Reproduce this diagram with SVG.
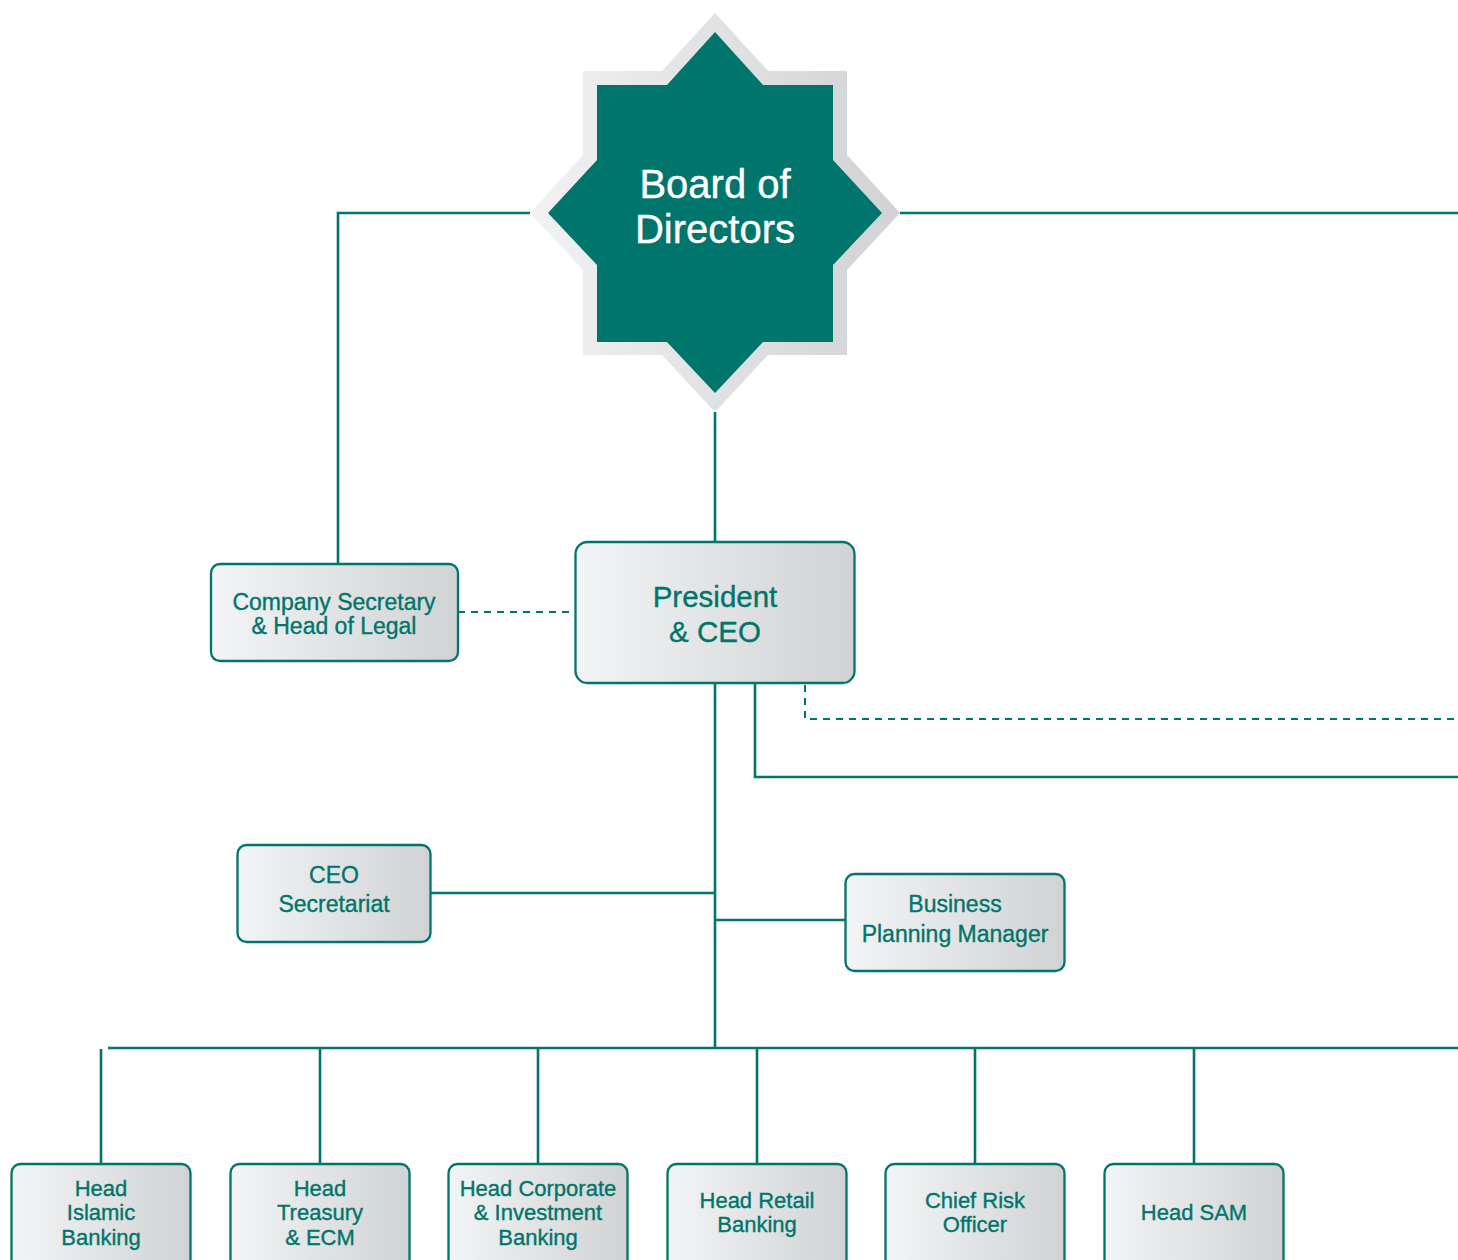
<svg xmlns="http://www.w3.org/2000/svg" width="1458" height="1260" viewBox="0 0 1458 1260">
  <defs>
    <linearGradient id="boxGrad" x1="0" y1="0" x2="1" y2="0">
      <stop offset="0" stop-color="#f3f4f5"/>
      <stop offset="1" stop-color="#d0d2d3"/>
    </linearGradient>
    <linearGradient id="starGrad" x1="0" y1="0" x2="1" y2="0">
      <stop offset="0" stop-color="#f1f2f3"/>
      <stop offset="1" stop-color="#d0d2d3"/>
    </linearGradient>
    <style>
      .box { fill: url(#boxGrad); stroke: #00756b; stroke-width: 2.3; }
      .conn { fill: none; stroke: #00756b; stroke-width: 2.6; }
      .dash { fill: none; stroke: #00756b; stroke-width: 2; stroke-dasharray: 7 6; }
      .t { font-family: "Liberation Sans", Arial, sans-serif; fill: #00756b; stroke: #00756b; stroke-width: 0.35; text-anchor: middle; }
      .tw { font-family: "Liberation Sans", Arial, sans-serif; fill: #ffffff; stroke: #ffffff; stroke-width: 0.4; text-anchor: middle; }
    </style>
  </defs>
  <rect width="1458" height="1260" fill="#ffffff"/>

  <g id="connectors">
    <polyline class="conn" points="530,213 338,213 338,563"/>
    <line class="conn" x1="900" y1="213" x2="1458" y2="213"/>
    <line class="conn" x1="715" y1="412" x2="715" y2="541"/>
    <line class="dash" x1="458" y1="612" x2="575" y2="612"/>
    <line class="conn" x1="715" y1="684" x2="715" y2="1048"/>
    <polyline class="conn" points="755,684 755,777 1458,777"/>
    <polyline class="dash" points="805,685 805,719 1458,719"/>
    <line class="conn" x1="431" y1="893" x2="715" y2="893"/>
    <line class="conn" x1="715" y1="920" x2="845" y2="920"/>
    <line class="conn" x1="108" y1="1048" x2="1458" y2="1048"/>
    <line class="conn" x1="101" y1="1049" x2="101" y2="1163"/>
    <line class="conn" x1="320" y1="1048" x2="320" y2="1163"/>
    <line class="conn" x1="538" y1="1048" x2="538" y2="1163"/>
    <line class="conn" x1="757" y1="1048" x2="757" y2="1163"/>
    <line class="conn" x1="975" y1="1048" x2="975" y2="1163"/>
    <line class="conn" x1="1194" y1="1048" x2="1194" y2="1163"/>
  </g>

  <g id="board">
    <polygon fill="url(#starGrad)" points="715,13 768,71 847,71 847,155 900,213 847,270 847,355 768,355 715,412 662,355 583,355 583,270 530,213 583,155 583,71 662,71"/>
    <polygon fill="#00756b" points="715,32 763,85 833,85 833,160 882,213 833,265 833,342 763,342 715,393 667,342 597,342 597,265 548,213 597,160 597,85 667,85"/>
    <text class="tw" font-size="40" x="715" y="198">Board of</text>
    <text class="tw" font-size="40" x="715" y="243">Directors</text>
  </g>

  <g id="company-secretary">
    <rect class="box" x="211" y="564" width="247" height="97" rx="9"/>
    <text class="t" font-size="23" x="334" y="610">Company Secretary</text>
    <text class="t" font-size="23" x="334" y="634">&amp; Head of Legal</text>
  </g>

  <g id="president">
    <rect class="box" x="575.5" y="542" width="279" height="141" rx="12" stroke-width="2.6"/>
    <text class="t" font-size="29.5" x="715" y="607">President</text>
    <text class="t" font-size="29.5" x="715" y="642">&amp; CEO</text>
  </g>

  <g id="ceo-secretariat">
    <rect class="box" x="237.5" y="845" width="193" height="97" rx="9"/>
    <text class="t" font-size="23" x="334" y="883">CEO</text>
    <text class="t" font-size="23" x="334" y="912">Secretariat</text>
  </g>

  <g id="business-planning">
    <rect class="box" x="845.5" y="874" width="219" height="97" rx="9"/>
    <text class="t" font-size="23" x="955" y="912">Business</text>
    <text class="t" font-size="23" x="955" y="942">Planning Manager</text>
  </g>

  <g id="head-islamic">
    <rect class="box" x="11.5" y="1164" width="179" height="110" rx="9"/>
    <text class="t" font-size="22" x="101" y="1196">Head</text>
    <text class="t" font-size="22" x="101" y="1220">Islamic</text>
    <text class="t" font-size="22" x="101" y="1245">Banking</text>
  </g>

  <g id="head-treasury">
    <rect class="box" x="230.5" y="1164" width="179" height="110" rx="9"/>
    <text class="t" font-size="22" x="320" y="1196">Head</text>
    <text class="t" font-size="22" x="320" y="1220">Treasury</text>
    <text class="t" font-size="22" x="320" y="1245">&amp; ECM</text>
  </g>

  <g id="head-corporate">
    <rect class="box" x="448.5" y="1164" width="179" height="110" rx="9"/>
    <text class="t" font-size="22" x="538" y="1196">Head Corporate</text>
    <text class="t" font-size="22" x="538" y="1220">&amp; Investment</text>
    <text class="t" font-size="22" x="538" y="1245">Banking</text>
  </g>

  <g id="head-retail">
    <rect class="box" x="667.5" y="1164" width="179" height="110" rx="9"/>
    <text class="t" font-size="22" x="757" y="1208">Head Retail</text>
    <text class="t" font-size="22" x="757" y="1232">Banking</text>
  </g>

  <g id="chief-risk">
    <rect class="box" x="885.5" y="1164" width="179" height="110" rx="9"/>
    <text class="t" font-size="22" x="975" y="1208">Chief Risk</text>
    <text class="t" font-size="22" x="975" y="1232">Officer</text>
  </g>

  <g id="head-sam">
    <rect class="box" x="1104.5" y="1164" width="179" height="110" rx="9"/>
    <text class="t" font-size="22" x="1194" y="1220">Head SAM</text>
  </g>
</svg>
